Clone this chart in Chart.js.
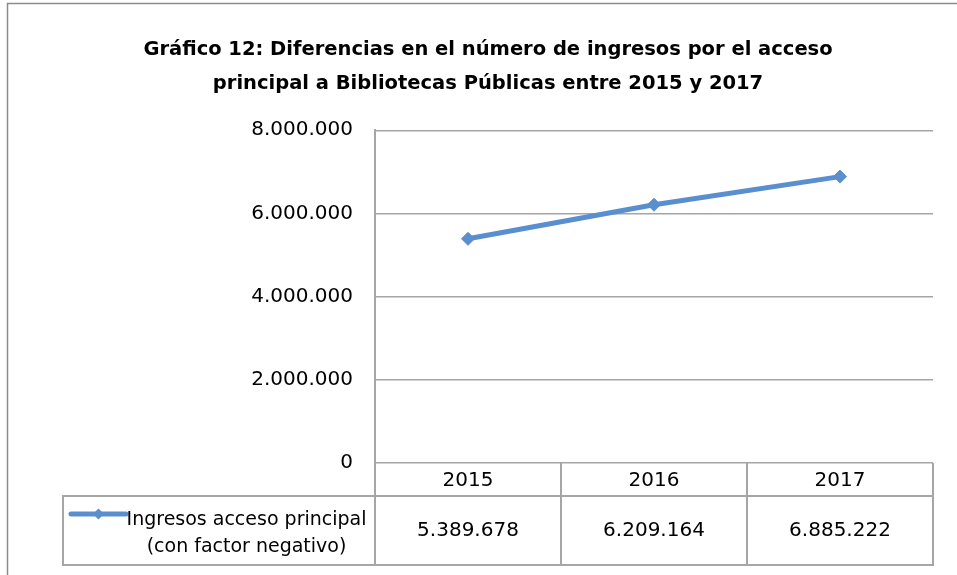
<!DOCTYPE html>
<html>
<head>
<meta charset="utf-8">
<script src="https://cdn.jsdelivr.net/npm/chart.js@4.4.1/dist/chart.umd.min.js"></script>
<style>
html,body{margin:0;padding:0;background:#fff;}
#wrap{position:relative;width:957px;height:575px;}
</style>
</head>
<body>
<div id="wrap"><canvas id="c" width="957" height="575"></canvas></div>
<script>
// ---- data ----
const titleLines = ['Gráfico 12: Diferencias en el número de ingresos por el acceso', 'principal a Bibliotecas Públicas entre 2015 y 2017'];
const categories = ['2015', '2016', '2017'];
const seriesLabel = ['Ingresos acceso principal', '(con factor negativo)'];
const values = [5389678, 6209164, 6885222];
const yMin = 0, yMax = 8000000, yStep = 2000000;

function fmt(n) {
  return String(Math.round(n)).replace(/\B(?=(\d{3})+(?!\d))/g, '.');
}

const LINE_COLOR = '#5a8fcf';
const GRID = '#a6a6a6';
const FONT = '"DejaVu Sans", sans-serif';

const tablePlugin = {
  id: 'tablePlugin',
  beforeDraw(chart) {
    const ctx = chart.ctx;
    ctx.save();
    ctx.fillStyle = '#fff';
    ctx.fillRect(0, 0, chart.width, chart.height);
    // outer frame
    ctx.strokeStyle = '#8c8c8c';
    ctx.lineWidth = 1.5;
    ctx.beginPath();
    ctx.moveTo(7.5, chart.height);
    ctx.lineTo(7.5, 3.5);
    ctx.lineTo(chart.width, 3.5);
    ctx.stroke();
    ctx.restore();
  },
  afterDraw(chart) {
    const ctx = chart.ctx;
    const area = chart.chartArea;
    const xs = chart.scales.x;
    const half = (xs.getPixelForValue(1) - xs.getPixelForValue(0)) / 2;
    const row1Top = area.bottom;
    const row1Bot = area.bottom + 33;
    const row2Bot = area.bottom + 102;
    const legLeft = 63;
    ctx.save();
    ctx.strokeStyle = GRID;
    ctx.lineWidth = 2;
    ctx.beginPath();
    // horizontal lines
    ctx.moveTo(legLeft, row1Bot); ctx.lineTo(area.right, row1Bot);
    ctx.moveTo(legLeft, row2Bot); ctx.lineTo(area.right, row2Bot);
    // vertical lines
    ctx.moveTo(area.left, row1Top); ctx.lineTo(area.left, row2Bot + 1);
    ctx.moveTo(legLeft, row1Bot - 1); ctx.lineTo(legLeft, row2Bot + 1);
    categories.forEach((c, i) => {
      const xr = xs.getPixelForValue(i) + half;
      ctx.moveTo(xr, row1Top); ctx.lineTo(xr, row2Bot + 1);
    });
    ctx.stroke();

    // text
    ctx.fillStyle = '#000';
    ctx.font = '20px ' + FONT;
    ctx.textAlign = 'center';
    ctx.textBaseline = 'middle';
    categories.forEach((c, i) => {
      const xc = xs.getPixelForValue(i);
      ctx.fillText(c, xc, (row1Top + row1Bot) / 2 + 1);
      ctx.fillText(fmt(values[i]), xc, (row1Bot + row2Bot) / 2);
    });

    // legend key
    const ly = row1Bot + 18;
    ctx.strokeStyle = LINE_COLOR;
    ctx.lineWidth = 5;
    ctx.lineCap = 'round';
    ctx.beginPath();
    ctx.moveTo(71, ly); ctx.lineTo(126, ly);
    ctx.stroke();
    ctx.fillStyle = LINE_COLOR;
    ctx.beginPath();
    ctx.moveTo(98.5, ly - 5.5); ctx.lineTo(104, ly); ctx.lineTo(98.5, ly + 5.5); ctx.lineTo(93, ly);
    ctx.closePath(); ctx.fill();

    ctx.fillStyle = '#000';
    ctx.font = '19px ' + FONT;
    ctx.textAlign = 'center';
    ctx.fillText(seriesLabel[0], 246.5, row1Bot + 24);
    ctx.fillText(seriesLabel[1], 246.5, row1Bot + 51);
    ctx.restore();
  }
};

new Chart(document.getElementById('c'), {
  type: 'line',
  data: {
    labels: categories,
    datasets: [{
      label: seriesLabel.join(' '),
      data: values,
      borderColor: LINE_COLOR,
      backgroundColor: LINE_COLOR,
      borderWidth: 5,
      pointStyle: 'rectRot',
      pointRadius: 6.5,
      pointHoverRadius: 6.5,
      pointBackgroundColor: LINE_COLOR,
      pointBorderColor: LINE_COLOR,
      pointBorderWidth: 1,
      tension: 0,
      fill: false
    }]
  },
  options: {
    responsive: false,
    animation: false,
    devicePixelRatio: 1,
    layout: { padding: { left: 43, right: 24, top: 0, bottom: 112 } },
    plugins: {
      legend: { display: false },
      tooltip: { enabled: false },
      title: {
        display: true,
        text: titleLines,
        color: '#000',
        font: { family: '"DejaVu Sans", sans-serif', size: 19.5, weight: 'bold', lineHeight: 1.75 },
        padding: { top: 33, bottom: 29 }
      }
    },
    scales: {
      x: {
        type: 'category',
        display: false,
        offset: true,
        grid: { display: false }
      },
      y: {
        min: yMin,
        max: yMax,
        afterFit(scale) { scale.width = 332; },
        ticks: {
          stepSize: yStep,
          color: '#000',
          font: { family: FONT, size: 20 },
          padding: 22,
          callback: (v) => fmt(v)
        },
        grid: { color: GRID, lineWidth: 1.5, drawTicks: false },
        border: { display: true, color: GRID, width: 2 }
      }
    }
  },
  plugins: [tablePlugin]
});
</script>
</body>
</html>
